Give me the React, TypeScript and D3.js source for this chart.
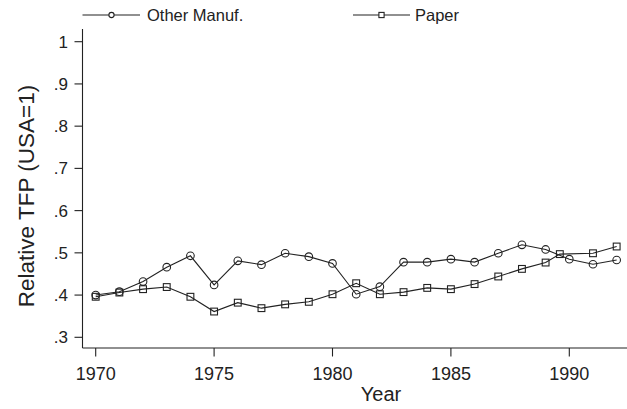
import * as d3 from "d3";
import React from "react";

const years = [1970, 1971, 1972, 1973, 1974, 1975, 1976, 1977, 1978, 1979, 1980, 1981, 1982, 1983, 1984, 1985, 1986, 1987, 1988, 1989, 1990, 1991, 1992];
const otherManuf = [0.400, 0.408, 0.432, 0.466, 0.493, 0.424, 0.481, 0.472, 0.499, 0.491, 0.475, 0.402, 0.420, 0.478, 0.478, 0.485, 0.478, 0.499, 0.519, 0.508, 0.485, 0.473, 0.483];
// the paper point around 1990 sits a little left of the tick in the original
const paperYears = [1970, 1971, 1972, 1973, 1974, 1975, 1976, 1977, 1978, 1979, 1980, 1981, 1982, 1983, 1984, 1985, 1986, 1987, 1988, 1989, 1989.6, 1991, 1992];
const paper = [0.396, 0.406, 0.414, 0.419, 0.396, 0.361, 0.382, 0.369, 0.378, 0.384, 0.402, 0.428, 0.402, 0.407, 0.417, 0.414, 0.426, 0.444, 0.462, 0.477, 0.497, 0.499, 0.515];
const yTicks = [0.3, 0.4, 0.5, 0.6, 0.7, 0.8, 0.9, 1];
const yTickLabels = [".3", ".4", ".5", ".6", ".7", ".8", ".9", "1"];
const xTicks = [1970, 1975, 1980, 1985, 1990];

const W = 627;
const H = 409;
const font = "'Liberation Sans', Arial, Helvetica, sans-serif";
const ink = "#222";

const App = () => {
  const x = d3.scaleLinear().domain([1970, 1990]).range([95.7, 569.3]);
  const y = d3.scaleLinear().domain([0.3, 1]).range([337.3, 41.7]);
  const left = 82.5;
  const bottom = 348;
  const top = 29;

  const line = d3.line<[number, number]>()
    .x(d => x(d[0]))
    .y(d => y(d[1]));

  const omPts: [number, number][] = years.map((yr, i) => [yr, otherManuf[i]]);
  const pPts: [number, number][] = paperYears.map((yr, i) => [yr, paper[i]]);

  const sq = 6.8;

  return (
    <svg width={W} height={H} style={{ position: "absolute", left: 0, top: 0, background: "#fff" }}>
      <rect width={W} height={H} fill="#fff" />

      {/* legend */}
      <g stroke={ink} fill="none" strokeWidth={1.1}>
        <line x1={82.5} x2={140} y1={15} y2={15} />
        <circle cx={111.5} cy={15} r={2.6} fill="#fff" />
        <line x1={353} x2={410} y1={15} y2={15} />
        <rect x={381.5 - 2.6} y={15 - 2.6} width={5.2} height={5.2} fill="#fff" />
      </g>
      <text x={147} y={20.5} fontFamily={font} fontSize={16.5} fill={ink}>Other Manuf.</text>
      <text x={415} y={20.5} fontFamily={font} fontSize={16.5} fill={ink}>Paper</text>

      {/* axes */}
      <g stroke={ink} strokeWidth={1.1}>
        <line x1={left} x2={left} y1={top} y2={bottom} />
        <line x1={left} x2={W} y1={bottom} y2={bottom} />
        {yTicks.map(t => (
          <line key={t} x1={left - 8} x2={left} y1={y(t)} y2={y(t)} />
        ))}
        {xTicks.map(t => (
          <line key={t} x1={x(t)} x2={x(t)} y1={bottom} y2={bottom + 8.5} />
        ))}
      </g>
      {yTicks.map((t, i) => (
        <text key={t} x={68} y={y(t) + 6} textAnchor="end" fontFamily={font} fontSize={17} fill={ink}>
          {yTickLabels[i]}
        </text>
      ))}
      {xTicks.map(t => (
        <text key={t} x={x(t)} y={380} textAnchor="middle" fontFamily={font} fontSize={18} fill={ink}>
          {t}
        </text>
      ))}
      <text x={381} y={401} textAnchor="middle" fontFamily={font} fontSize={20} fill={ink}>Year</text>
      <text
        transform={`translate(34, 196) rotate(-90)`}
        textAnchor="middle"
        fontFamily={font}
        fontSize={22.5}
        fill={ink}
      >
        Relative TFP (USA=1)
      </text>

      {/* series */}
      <path d={line(omPts) || ""} fill="none" stroke={ink} strokeWidth={1.1} />
      <path d={line(pPts) || ""} fill="none" stroke={ink} strokeWidth={1.1} />
      <g fill="none" stroke={ink} strokeWidth={1.1}>
        {omPts.map((d, i) => (
          <circle key={i} cx={x(d[0])} cy={y(d[1])} r={3.8} />
        ))}
        {pPts.map((d, i) => (
          <rect key={i} x={x(d[0]) - sq / 2} y={y(d[1]) - sq / 2} width={sq} height={sq} />
        ))}
      </g>
    </svg>
  );
};

export default App;
